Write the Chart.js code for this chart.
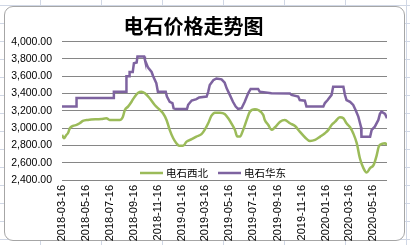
<!DOCTYPE html>
<html>
<head>
<meta charset="utf-8">
<script src="https://cdn.jsdelivr.net/npm/chart.js@4.4.1/dist/chart.umd.min.js"></script>
<style>
  html, body { margin: 0; padding: 0; }
  body {
    width: 410px; height: 245px; overflow: hidden; position: relative;
    background-color: #fff;
    background-image:
      repeating-linear-gradient(to right, transparent 0, transparent 40px, #d0d7e5 40px, #d0d7e5 41px, transparent 41px, transparent 61px),
      repeating-linear-gradient(to bottom, transparent 0, transparent 5px, #d0d7e5 5px, #d0d7e5 6px, transparent 6px, transparent 18px);
  }
  #frame {
    position: absolute; left: 4px; top: 6px; width: 399px; height: 233px;
    border: 1px solid #a6a6a6; border-radius: 9px; background: #fff;
  }
  #c { position: absolute; left: 0; top: 0; }
</style>
</head>
<body>
<div id="frame"></div>
<canvas id="c" width="410" height="245"></canvas>
<script>
// ---- data (day = days since 2018-03-16) ----
const startDate = '2018-03-16';
const tickLabels = ['2018-03-16','2018-05-16','2018-07-16','2018-09-16','2018-11-16','2019-01-16',
  '2019-03-16','2019-05-16','2019-07-16','2019-09-16','2019-11-16','2020-01-16','2020-03-16','2020-05-16'];
const yTicks = [2400, 2600, 2800, 3000, 3200, 3400, 3600, 3800, 4000];
const seriesNames = ['电石西北', '电石华东'];

const nwDay = [0,5,11,15,20,28,37,45,53,66,100,113,121,147,155,160,168,177,185,194,202,211,223,236,249,257,266,274,283,291,298,308,317,330,342,355,363,372,380,389,402,414,423,431,440,446,453,461,470,478,491,499,512,516,525,533,542,555,567,580,593,605,618,631,644,657,669,678,686,695,707,716,724,733,741,750,758,767,775,784,793,801,806,814,822,827];
const nwPrice = [2921,2883,2921,2941,2999,3025,3037,3056,3083,3095,3106,3114,3095,3095,3133,3210,3249,3306,3364,3410,3422,3403,3346,3268,3210,3172,3095,2980,2883,2826,2795,2795,2844,2872,2902,2930,2980,3056,3141,3179,3179,3164,3114,3056,2980,2902,2902,2980,3095,3190,3218,3210,3153,3095,3037,2980,3010,3075,3095,3056,3025,2960,2895,2852,2864,2902,2941,2980,3037,3075,3126,3114,3056,3010,2941,2826,2652,2537,2486,2537,2575,2690,2786,2817,2825,2806];

const ecDay = [0,37,37,132,132,164,164,171,172,180,183,190,192,209,211,219,228,232,240,244,264,267,274,281,284,290,318,321,330,342,349,368,372,376,385,393,406,414,419,427,435,442,448,457,465,474,480,499,503,533,580,584,601,605,618,622,665,669,676,686,690,716,720,724,733,741,747,754,761,762,784,788,796,805,809,813,822,827];
const ecPrice = [3250,3250,3350,3350,3420,3420,3600,3600,3650,3650,3750,3760,3830,3830,3790,3700,3650,3600,3520,3420,3420,3365,3305,3290,3230,3220,3220,3270,3320,3335,3355,3365,3420,3500,3555,3575,3565,3525,3460,3385,3305,3250,3222,3230,3305,3405,3453,3453,3422,3405,3400,3385,3365,3325,3318,3250,3250,3290,3325,3385,3480,3480,3385,3325,3305,3268,3210,3133,3010,2900,2900,2980,3017,3095,3165,3190,3165,3115];

const colors = ['#9bbb59', '#7e63a0'];

function dayOf(s) {
  const p = s.split('-').map(Number), q = startDate.split('-').map(Number);
  return Math.round((Date.UTC(p[0], p[1]-1, p[2]) - Date.UTC(q[0], q[1]-1, q[2])) / 86400000);
}
const tickDays = tickLabels.map(dayOf);

const legendInside = {
  id: 'legendInside',
  afterDraw(chart) {
    const ctx = chart.ctx, a = chart.chartArea;
    ctx.save();
    ctx.font = '10.5px "Noto Sans CJK SC"';
    ctx.textBaseline = 'middle';
    const y = a.bottom - 7;
    let x = a.left + 78;
    chart.data.datasets.forEach(ds => {
      ctx.strokeStyle = ds.borderColor; ctx.lineWidth = 2.5;
      ctx.beginPath(); ctx.moveTo(x, y); ctx.lineTo(x + 23, y); ctx.stroke();
      x += 26;
      ctx.fillStyle = '#000';
      ctx.fillText(ds.label, x, y);
      x += ctx.measureText(ds.label).width + 10;
    });
    ctx.restore();
  }
};

new Chart(document.getElementById('c'), {
  type: 'line',
  data: {
    datasets: [
      { label: seriesNames[0], data: nwDay.map((d, i) => ({x: d, y: nwPrice[i]})),
        borderColor: colors[0], backgroundColor: colors[0], borderWidth: 2.5,
        pointRadius: 0, tension: 0.4, cubicInterpolationMode: 'monotone' },
      { label: seriesNames[1], data: ecDay.map((d, i) => ({x: d, y: ecPrice[i]})),
        borderColor: colors[1], backgroundColor: colors[1], borderWidth: 2.5,
        pointRadius: 0, tension: 0 }
    ]
  },
  options: {
    responsive: false, animation: false, devicePixelRatio: 1,
    layout: { padding: { left: 0, right: 23, top: 0, bottom: 0 } },
    plugins: {
      legend: { display: false },
      tooltip: { enabled: false },
      title: { display: true, text: '电石价格走势图', color: '#000',
        font: { family: '"Noto Sans CJK SC"', size: 20, weight: 'bold', lineHeight: 1.2 },
        padding: { top: 14.7, bottom: 3 } }
    },
    scales: {
      x: {
        type: 'linear', min: 0, max: nwDay[nwDay.length - 1],
        afterBuildTicks: s => { s.ticks = tickDays.map(v => ({ value: v })); },
        afterFit: s => { s.height = 65; },
        grid: { display: false, drawTicks: false },
        border: { display: false },
        ticks: { autoSkip: false, minRotation: 90, maxRotation: 90, padding: 5, color: '#000',
          font: { family: '"Liberation Sans"', size: 11 },
          callback: (v, i) => tickLabels[i] }
      },
      y: {
        min: yTicks[0], max: yTicks[yTicks.length - 1],
        afterBuildTicks: s => { s.ticks = yTicks.map(v => ({ value: v })); },
        afterFit: s => { s.width = 62; },
        grid: { color: '#868686', lineWidth: 1, drawTicks: false },
        border: { display: false },
        ticks: { padding: 10, color: '#000', font: { family: '"Liberation Sans"', size: 10.5 },
          callback: v => v.toLocaleString('en-US', { minimumFractionDigits: 2, maximumFractionDigits: 2 }) }
      }
    }
  },
  plugins: [legendInside]
});
</script>
</body>
</html>
